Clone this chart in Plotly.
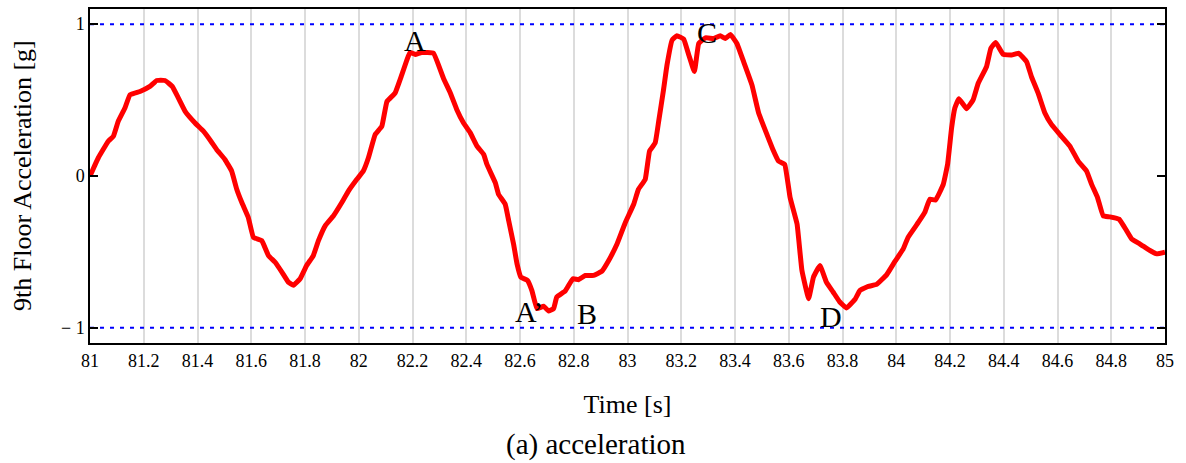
import plotly.graph_objects as go

# ---- data ----
time_s = [81.0, 81.031, 81.068, 81.087, 81.105, 81.13, 81.149, 81.186, 81.223, 81.248, 81.279,
          81.306, 81.329, 81.354, 81.391, 81.422, 81.45, 81.471, 81.502, 81.527, 81.546, 81.565,
          81.589, 81.608, 81.639, 81.664, 81.689, 81.714, 81.738, 81.757, 81.782, 81.806, 81.831,
          81.85, 81.875, 81.906, 81.937, 81.962, 81.993, 82.017, 82.036, 82.061, 82.086, 82.105,
          82.135, 82.16, 82.179, 82.191, 82.21, 82.234, 82.278, 82.315, 82.34, 82.365, 82.39,
          82.415, 82.44, 82.465, 82.477, 82.508, 82.52, 82.545, 82.558, 82.576, 82.589, 82.603,
          82.628, 82.644, 82.663, 82.688, 82.706, 82.725, 82.737, 82.768, 82.797, 82.818, 82.843,
          82.874, 82.905, 82.93, 82.961, 82.992, 83.023, 83.041, 83.066, 83.082, 83.103, 83.116,
          83.134, 83.147, 83.166, 83.184, 83.209, 83.228, 83.249, 83.265, 83.29, 83.321, 83.345,
          83.364, 83.383, 83.407, 83.432, 83.463, 83.488, 83.519, 83.541, 83.562, 83.585, 83.605,
          83.631, 83.649, 83.674, 83.692, 83.716, 83.74, 83.765, 83.79, 83.815, 83.846, 83.865,
          83.896, 83.927, 83.964, 83.995, 84.026, 84.044, 84.082, 84.106, 84.125, 84.146, 84.175,
          84.191, 84.206, 84.218, 84.233, 84.262, 84.286, 84.305, 84.336, 84.352, 84.37, 84.398,
          84.429, 84.456, 84.485, 84.503, 84.528, 84.553, 84.578, 84.609, 84.646, 84.677, 84.708,
          84.727, 84.749, 84.77, 84.795, 84.829, 84.857, 84.876, 84.907, 84.944, 84.969, 85.0]
accel_g = [0.0, 0.12, 0.229, 0.262, 0.36, 0.448, 0.535, 0.557, 0.59, 0.629, 0.629,
           0.59, 0.513, 0.426, 0.349, 0.295, 0.229, 0.175, 0.109, 0.033, -0.087, -0.175,
           -0.273, -0.404, -0.426, -0.524, -0.568, -0.633, -0.699, -0.72, -0.677, -0.59, -0.524,
           -0.426, -0.328, -0.262, -0.175, -0.098, -0.022, 0.033, 0.12, 0.273, 0.328, 0.491,
           0.546, 0.666, 0.764, 0.814, 0.801, 0.814, 0.808, 0.644, 0.55, 0.437, 0.349,
           0.284, 0.197, 0.142, 0.076, -0.044, -0.12, -0.186, -0.295, -0.448, -0.579, -0.666,
           -0.688, -0.753, -0.873, -0.858, -0.889, -0.873, -0.797, -0.758, -0.677, -0.683, -0.655,
           -0.655, -0.627, -0.557, -0.448, -0.306, -0.186, -0.087, -0.022, 0.164, 0.218, 0.36,
           0.568, 0.731, 0.895, 0.924, 0.902, 0.797, 0.688, 0.873, 0.91, 0.906, 0.924,
           0.906, 0.932, 0.873, 0.753, 0.6, 0.415, 0.273, 0.175, 0.098, 0.076, -0.142,
           -0.317, -0.622, -0.808, -0.666, -0.59, -0.699, -0.764, -0.83, -0.869, -0.814, -0.753,
           -0.727, -0.714, -0.651, -0.563, -0.48, -0.404, -0.306, -0.24, -0.153, -0.159, -0.055,
           0.076, 0.317, 0.448, 0.509, 0.443, 0.502, 0.611, 0.721, 0.841, 0.88, 0.801,
           0.797, 0.808, 0.753, 0.655, 0.546, 0.415, 0.338, 0.273, 0.197, 0.098, 0.033,
           -0.055, -0.142, -0.262, -0.269, -0.284, -0.36, -0.415, -0.448, -0.491, -0.513, -0.502]

limit_levels = [1.0, -1.0]
x_ticks = [81 + 0.2 * i for i in range(21)]
x_tick_labels = ["81", "81.2", "81.4", "81.6", "81.8", "82", "82.2", "82.4", "82.6", "82.8", "83",
                 "83.2", "83.4", "83.6", "83.8", "84", "84.2", "84.4", "84.6", "84.8", "85"]
y_ticks = [-1, 0, 1]
y_tick_labels = ["\u2212 1", "0", "1"]

point_labels = ["A", "A\u2019", "B", "C", "D"]
point_label_t = [82.21, 82.632, 82.849, 83.296, 83.757]
point_label_v = [0.895, -0.895, -0.906, 0.945, -0.928]

FONT = "Liberation Serif, Times New Roman, serif"

fig = go.Figure()
for lv in limit_levels:
    fig.add_trace(go.Scatter(x=[81, 85], y=[lv, lv], mode="lines",
                             line=dict(color="#0000ff", width=2, dash="4px,6px"),
                             hoverinfo="skip", showlegend=False))
fig.add_trace(go.Scatter(x=time_s, y=accel_g, mode="lines",
                         line=dict(color="#ff0000", width=5, shape="spline", smoothing=0.3),
                         showlegend=False))

for txt, tx, ty in zip(point_labels, point_label_t, point_label_v):
    fig.add_annotation(x=tx, y=ty, text=txt, showarrow=False,
                       font=dict(family=FONT, size=30, color="black"),
                       xanchor="center", yanchor="middle")

# y-axis title (placed as a rotated annotation for exact position)
fig.add_annotation(x=(22 - 90) / 1075, y=0.5, xref="paper", yref="paper",
                   text="9th Floor Acceleration [g]", textangle=-90, showarrow=False,
                   font=dict(family=FONT, size=26, color="black"),
                   xanchor="center", yanchor="middle")

fig.add_annotation(x=(596 - 90) / 1075, y=-0.304, xref="paper", yref="paper",
                   text="(a) acceleration", showarrow=False,
                   font=dict(family=FONT, size=29, color="black"),
                   xanchor="center", yanchor="middle")

fig.update_layout(
    width=1186, height=463,
    margin=dict(l=90, r=21, t=7, b=120),
    paper_bgcolor="white", plot_bgcolor="white",
    font=dict(family=FONT, color="black"),
)
fig.update_xaxes(range=[81, 85], tickmode="array", tickvals=x_ticks, ticktext=x_tick_labels,
                 tickfont=dict(family=FONT, size=18, color="black"),
                 showgrid=True, gridcolor="#dcdcdc", gridwidth=1.5,
                 showline=True, linecolor="black", linewidth=1.5, mirror=True,
                 ticks="", ticklabelstandoff=1, zeroline=False,
                 title=dict(text="Time [s]", font=dict(family=FONT, size=26, color="black"),
                            standoff=24))
fig.update_yaxes(range=[-1.1, 1.1], tickmode="array", tickvals=y_ticks, ticktext=y_tick_labels,
                 tickfont=dict(family=FONT, size=18, color="black"),
                 showgrid=False, zeroline=False,
                 showline=True, linecolor="black", linewidth=1.5, mirror="ticks",
                 ticks="inside", ticklen=8, tickwidth=1.5, tickcolor="black")

fig.write_html("out.html")
